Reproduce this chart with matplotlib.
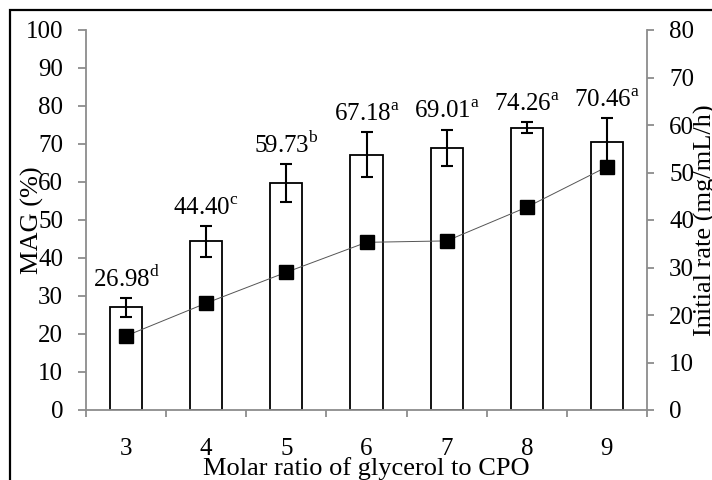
import numpy as np
import matplotlib.pyplot as plt
from matplotlib.patches import Rectangle

plt.rcParams['font.family'] = ['Liberation Serif', 'DejaVu Serif']
plt.rcParams['mathtext.fontset'] = 'custom'
plt.rcParams['mathtext.rm'] = 'Liberation Serif'

# molar ratio glycerol : CPO
ratios = ['3', '4', '5', '6', '7', '8', '9']
# MAG yield (%) with std. dev. and significance letters
mag = [26.98, 44.40, 59.73, 67.18, 69.01, 74.26, 70.46]
mag_err = [2.4, 4.1, 5.1, 5.9, 4.8, 1.4, 6.3]
letters = ['d', 'c', 'b', 'a', 'a', 'a', 'a']
# initial rate (mg/mL/h)
rate = [15.6, 22.5, 29.0, 35.3, 35.6, 42.7, 51.2]

gray = '#8c8c8c'
x = np.arange(len(ratios))

fig = plt.figure(figsize=(7.12, 4.8), dpi=100)
ax = fig.add_axes([86/712, 70/480, 561/712, 380/480])

ax.bar(x, mag, width=0.4, color='white', edgecolor='black', linewidth=1.3, zorder=2)
ax.errorbar(x, mag, yerr=mag_err, fmt='none', ecolor='black', elinewidth=1.5,
            capsize=4.5, capthick=1.5, zorder=3)
for xi, v, e, l in zip(x, mag, mag_err, letters):
    ax.annotate(f'{v:.2f}' + r'$^{\mathrm{' + l + '}}$', (xi, v + e), xytext=(0, 8),
                textcoords='offset points', ha='center', va='baseline', fontsize=18)

ax.set_xlim(-0.5, 6.5)
ax.set_ylim(0, 100)
ax.set_yticks(range(0, 101, 10))
ax.set_xticks(x)
ax.set_xticklabels(ratios)
ax.set_xticks(np.arange(-0.5, 7, 1), minor=True)
ax.tick_params(axis='x', which='major', length=0, pad=20, labelsize=18)
ax.tick_params(axis='x', which='minor', length=5, width=1.3, color=gray, direction='out')
ax.tick_params(axis='y', length=5.5, width=1.3, color=gray, pad=11, labelsize=18)
for s in ['top', 'right']:
    ax.spines[s].set_visible(False)
for s in ['left', 'bottom']:
    ax.spines[s].set_color(gray)
    ax.spines[s].set_linewidth(1.3)

# initial rate on secondary axis
ax2 = ax.twinx()
ax2.plot(x, rate, color='#555555', lw=0.7, marker='s', ms=9.5,
         mfc='black', mec='black', zorder=4)
ax2.set_ylim(0, 80)
ax2.set_yticks(range(0, 81, 10))
ax2.tick_params(axis='y', length=5, width=1.3, color=gray, pad=11, labelsize=18)
for s in ['top', 'left', 'bottom']:
    ax2.spines[s].set_visible(False)
ax2.spines['right'].set_color(gray)
ax2.spines['right'].set_linewidth(1.3)

fig.text(32/712, 260/480, 'MAG (%)', rotation=90, ha='center', va='center', fontsize=19)
fig.text(705/712, 260/480, 'Initial rate (mg/mL/h)', rotation=90, ha='center', va='center', fontsize=19)
fig.text(366/712, 5/480, 'Molar ratio of glycerol to CPO', ha='center', va='baseline', fontsize=19)

# frame around the figure
fig.patches.append(Rectangle((10/712, -0.2), 1.2, 470/480 + 0.2, transform=fig.transFigure,
                             fill=False, edgecolor='black', linewidth=1.6))

fig.savefig('out.png', dpi=100)
